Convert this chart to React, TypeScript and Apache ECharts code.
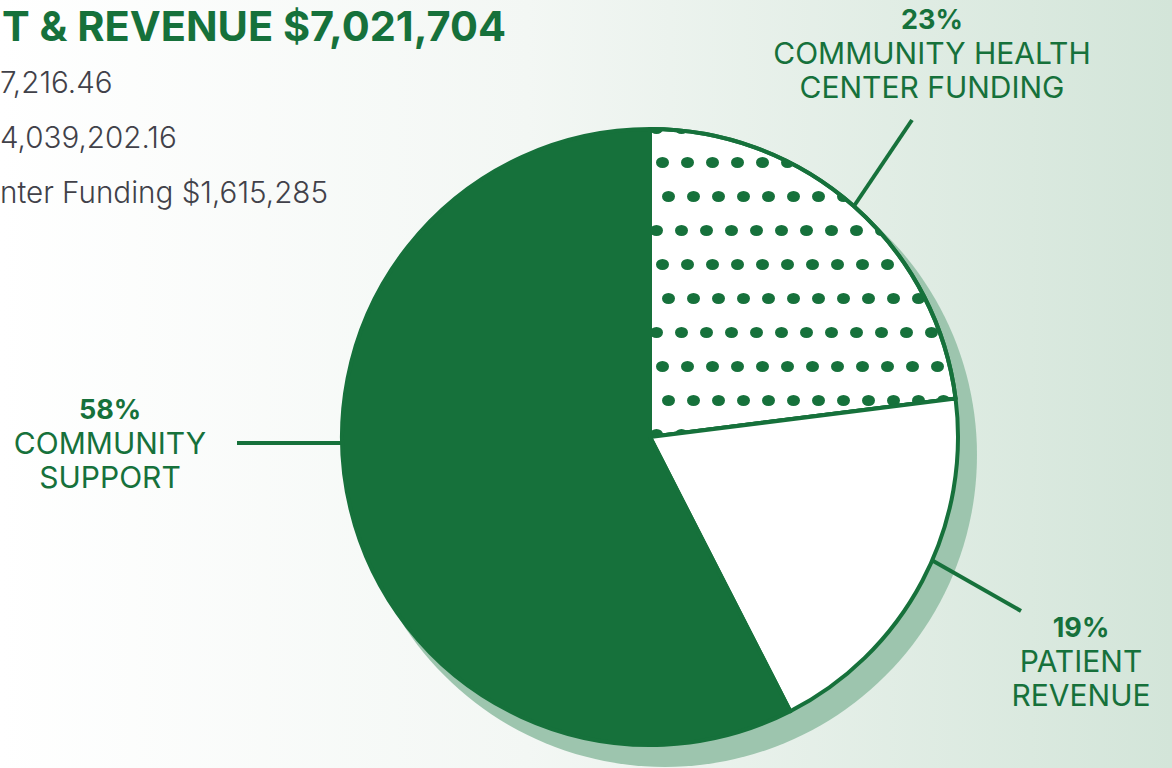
import React, { useEffect, useRef } from "react";
import * as echarts from "echarts";

const TITLE = "T & REVENUE $7,021,704";
const SUMMARY_LINES = ["7,216.46", "4,039,202.16", "nter Funding $1,615,285"];
const CATEGORIES = ["COMMUNITY HEALTH\nCENTER FUNDING", "PATIENT\nREVENUE", "COMMUNITY\nSUPPORT"];
const VALUES = [1615285, 1367216.46, 4039202.16];
const SHADOW_VALUES = [1];

const GREEN = "#16713b";
const SHADOW_GREEN = "#9dc5ae";
const FONT = "Inter";

// label placement (label centre, and label line points) per slice
const LABEL_POS = [
  { x: 932, y: 53, line: [[852, 209], [912, 120]] },
  { x: 1081, y: 661, line: [[928, 558], [1021, 611]] },
  { x: 110, y: 443, line: [[345, 443], [237, 443]] },
];

export default function App() {
  const ref = useRef<HTMLDivElement>(null);
  useEffect(() => {
    document.body.style.margin = "0";
    const chart = echarts.init(ref.current!, null, { renderer: "svg" });
    const option: any = {
      animation: false,
      backgroundColor: new echarts.graphic.LinearGradient(0, 0, 1, 0, [
        { offset: 0, color: "#ffffff" },
        { offset: 0.45, color: "#f3f7f4" },
        { offset: 1, color: "#d3e5d9" },
      ]),
      graphic: [
        {
          type: "text",
          x: 2,
          y: 26,
          style: {
            text: TITLE,
            font: `700 41.5px ${FONT}`,
            lineHeight: 34,
            fill: GREEN,
            textVerticalAlign: "middle",
          },
        },
        ...SUMMARY_LINES.map((t, i) => ({
          type: "text",
          x: 0,
          y: 82 + i * 55,
          style: {
            text: t,
            font: `300 29.6px ${FONT}`,
            fill: "#414149",
            textVerticalAlign: "middle",
          },
        })),
      ],
      series: [
        {
          type: "pie",
          silent: true,
          z: 1,
          center: [665, 455],
          radius: 312,
          label: { show: false },
          labelLine: { show: false },
          itemStyle: { color: SHADOW_GREEN, borderWidth: 0 },
          data: SHADOW_VALUES.map((v) => ({ value: v, name: "shadow" })),
        },
        {
          type: "pie",
          z: 2,
          center: [650, 437],
          radius: 308,
          startAngle: 90,
          clockwise: true,
          percentPrecision: 0,
          itemStyle: { borderColor: GREEN, borderWidth: 4 },
          label: {
            show: true,
            position: "outside",
            overflow: "none",
            formatter: (p: any) =>
              `{p|${p.percent}%}\n` +
              String(p.name)
                .split("\n")
                .map((s: string) => `{n|${s}}`)
                .join("\n"),
            rich: {
              p: { fontFamily: FONT, fontWeight: 700, fontSize: 27, color: GREEN, lineHeight: 34, align: "center" },
              n: { fontFamily: FONT, fontWeight: 400, fontSize: 30, color: GREEN, lineHeight: 34, align: "center" },
            },
          },
          labelLine: { show: true, lineStyle: { color: GREEN, width: 4 }, length: 60, length2: 0 },
          labelLayout: (params: any) => {
            const l = LABEL_POS[params.dataIndex];
            return {
              x: l.x,
              y: l.y,
              align: "center",
              verticalAlign: "middle",
              labelLinePoints: [l.line[0], l.line[1], l.line[1]],
            };
          },
          data: CATEGORIES.map((name, i) => {
            const d: any = { name, value: VALUES[i] };
            if (i === 0) {
              d.itemStyle = {
                color: "#ffffff",
                decal: {
                  symbol: "path://M0,50 A60,50 0 1,1 120,50 A60,50 0 1,1 0,50 Z",
                  symbolSize: 1,
                  symbolKeepAspect: false,
                  color: GREEN,
                  dashArrayX: [[13, 12], [0, 12, 13, 0], [0, 6, 13, 6]],
                  dashArrayY: [0, 21, 11, 2],
                },
              };
            } else if (i === 1) {
              d.itemStyle = { color: "#ffffff" };
            } else {
              d.itemStyle = { color: GREEN };
            }
            return d;
          }),
        },
      ],
    };
    chart.setOption(option);
    return () => chart.dispose();
  }, []);
  return <div ref={ref} style={{ position: "fixed", left: 0, top: 0, width: 1172, height: 768 }} />;
}
